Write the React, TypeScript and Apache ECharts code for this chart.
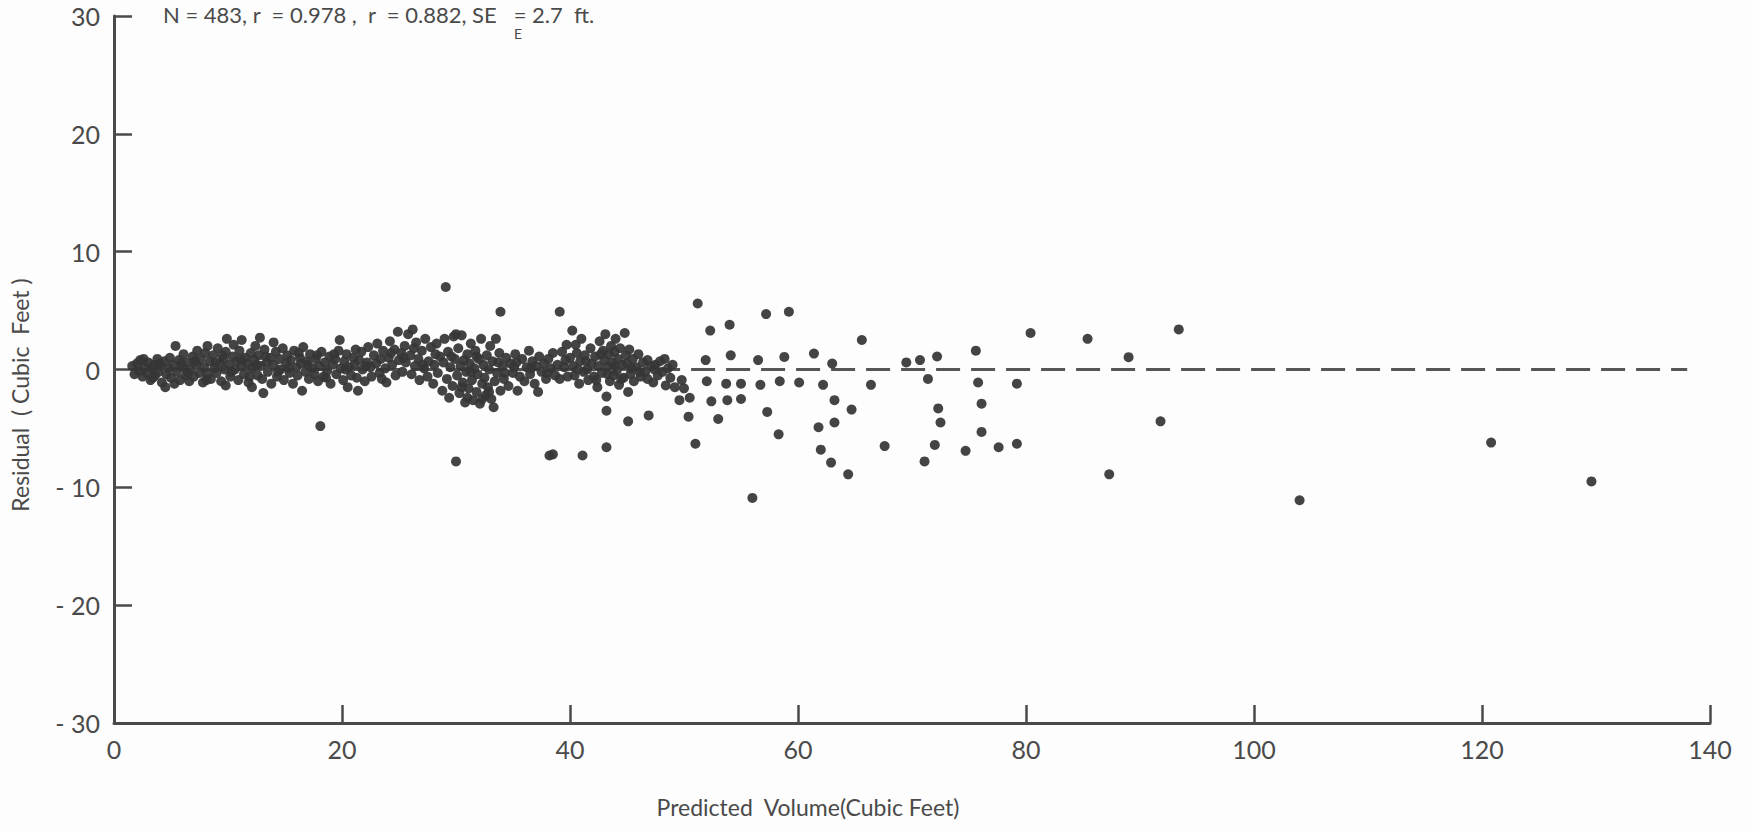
import React, { useEffect, useRef } from "react";
import * as echarts from "echarts";

const xTicks = [0, 20, 40, 60, 80, 100, 120, 140];
const yTicks = [-30, -20, -10, 0, 10, 20, 30];

// dense cluster of residuals (predicted volume, residual)
const clusterPoints: number[][] = [
  [1.6,0.3],[1.8,-0.4],[2.0,0.5],[2.2,-0.1],[2.3,0.8],[2.5,-0.6],[2.7,0.2],[2.9,-0.3],[3.0,0.6],[3.2,-0.9],[3.3,0.1],[3.5,0.4],[3.6,-0.5],[3.8,0.9],[3.9,-0.2],[4.1,0.3],[4.2,-1.1],[4.4,0.7],[4.5,-1.5],[4.6,-0.4],[4.8,0.1],[4.9,1.0],[5.0,-0.7],
  [5.2,0.4],[5.4,2.0],[5.3,-1.2],[5.5,-0.2],[5.7,0.8],[5.8,-0.9],[6.0,0.2],[6.1,1.3],[6.3,-0.5],[6.4,0.6],[6.6,-1.0],[6.7,0.0],[6.9,1.1],[7.0,-0.6],[7.2,0.4],[7.3,1.6],[7.5,-0.3],[7.6,0.9],[7.8,-1.1],[7.9,0.2],[8.0,1.4],[8.2,2.0],[8.2,-0.4],[8.4,0.7],[8.5,-0.8],[8.7,1.2],[8.8,0.1],[9.0,-0.3],[9.1,1.8],[9.3,0.5],[9.4,-1.0],[9.6,0.9],[9.7,0.0],[9.8,1.5],[9.9,2.6],[9.8,-1.35],
  [10.1,0.4],[10.2,-0.6],[10.4,1.1],[10.5,2.1],[10.6,0.0],[10.8,0.7],[10.9,-0.9],[11.0,1.6],[11.2,2.5],[11.2,0.3],[11.4,-0.4],[11.5,1.0],[11.7,0.5],[11.8,-1.1],[12.0,1.4],[12.1,0.1],[12.1,-1.5],[12.3,0.8],[12.4,2.0],[12.6,-0.5],[12.7,1.2],[12.8,2.7],[12.9,0.3],[13.1,-2.0],[13.0,-0.8],[13.2,1.7],[13.4,0.6],[13.5,-0.2],[13.7,1.0],[13.8,-1.2],[14.0,2.3],[14.0,0.4],[14.2,1.5],[14.3,-0.6],[14.5,0.9],[14.6,0.0],[14.8,1.8],[14.9,-0.9],
  [15.1,0.5],[15.2,1.2],[15.4,-0.3],[15.5,0.8],[15.7,-1.2],[15.8,1.6],[16.0,0.2],[16.1,-0.5],[16.3,1.0],[16.5,-1.8],[16.4,0.5],[16.6,1.9],[16.8,-0.2],[16.9,0.7],[17.1,-0.8],[17.2,1.3],[17.4,0.1],[17.6,-0.4],[17.7,0.9],[17.9,-1.0],[18.1,-4.8],[18.0,0.3],[18.2,1.5],[18.4,-0.6],[18.5,0.6],[18.7,-0.1],[18.9,1.1],[19.0,-1.2],[19.2,0.4],[19.4,0.9],[19.5,-0.4],[19.7,1.6],[19.8,2.5],[19.9,0.1],
  [20.1,-0.9],[20.2,0.7],[20.4,1.3],[20.5,-1.5],[20.6,0.2],[20.8,-0.5],[21.0,1.0],[21.1,0.4],[21.4,-1.8],[21.3,-0.7],[21.5,0.8],[21.7,1.5],[21.8,0.0],[22.0,-1.0],[22.2,0.6],[22.3,1.9],[22.5,0.2],[22.6,-0.6],[22.8,1.2],[23.0,0.5],[23.1,2.2],[23.3,-0.3],[23.4,0.9],[23.6,1.6],[23.8,0.1],[23.9,-1.1],[24.1,1.0],[24.2,2.4],[24.4,0.4],[24.6,1.7],[24.7,-0.5],[24.9,3.2],
  [25.0,0.8],[25.2,1.4],[25.3,-0.2],[25.5,2.0],[25.6,0.6],[25.8,3.0],[26.0,1.2],[26.2,3.4],[26.1,-0.4],[26.4,0.3],[26.5,2.3],[26.7,0.9],[26.8,-0.9],[27.0,1.6],[27.2,0.1],[27.3,2.6],[27.5,-0.6],[27.6,0.7],[27.8,1.9],[28.0,-1.2],[28.1,0.4],[28.3,2.2],[28.4,-0.3],[28.6,1.1],[28.8,-1.8],[28.9,0.6],[29.1,7.0],[29.0,2.6],[29.2,-0.8],[29.3,1.5],[29.4,-2.4],[29.5,0.2],[29.7,-1.4],[29.8,2.8],[30.0,3.0],[30.0,-7.8],[29.9,0.9],
  [30.1,-0.5],[30.2,1.8],[30.3,-2.0],[30.4,0.3],[30.5,2.9],[30.6,-1.1],[30.7,0.8],[30.8,-2.8],[30.9,-0.2],[31.0,-2.4],[31.0,1.3],[31.1,-1.6],[31.2,0.5],[31.3,2.2],[31.4,-0.9],[31.5,-2.6],[31.6,0.1],[31.7,1.6],[31.8,-1.9],[31.9,-0.4],[32.0,0.9],[32.1,-2.9],[32.2,2.6],[32.3,-1.2],[32.4,0.4],[32.5,-0.7],[32.6,-2.2],[32.7,1.2],[32.8,-1.5],[32.9,0.0],[33.0,2.0],[33.1,-2.5],[33.3,-3.2],[33.2,0.7],[33.4,-1.0],[33.5,2.6],[33.6,-0.3],[33.8,1.4],[33.9,4.9],[33.9,-1.8],[34.1,0.3],[34.2,-0.8],[34.4,1.0],[34.6,-1.4],[34.8,0.5],
  [35.0,-0.3],[35.2,1.3],[35.4,-1.8],[35.3,0.6],[35.6,-0.6],[35.8,0.9],[36.0,-1.0],[36.2,0.2],[36.4,1.6],[36.5,-0.4],[36.7,0.7],[36.9,-1.2],[37.0,0.3],[37.2,-1.9],[37.3,1.1],[37.5,-0.2],[37.7,0.5],[37.9,-0.8],[38.1,0.9],[38.5,-7.2],[38.2,-7.3],[38.3,0.1],[38.5,1.4],[38.7,-0.5],[38.9,0.4],[39.1,-0.8],[39.1,4.9],[39.3,1.5],[39.5,0.2],[39.7,2.1],[39.8,-0.6],[40.0,1.0],
  [40.2,3.3],[40.3,0.3],[40.5,2.1],[40.4,-0.5],[40.6,1.4],[40.8,-1.2],[40.9,0.7],[41.1,-7.3],[41.0,2.6],[41.2,-0.2],[41.3,1.2],[41.5,0.0],[41.6,-0.9],[41.8,1.8],[41.9,0.5],[42.1,-0.6],[42.2,1.1],[42.4,-1.5],[42.5,0.3],[42.6,2.4],[42.8,-0.3],[42.9,1.6],[43.0,0.8],[43.1,3.0],[43.2,-2.3],[43.2,-3.5],[43.2,-6.6],[43.3,0.2],[43.4,1.3],[43.5,-1.0],[43.6,2.0],[43.7,0.6],[43.8,-0.5],[43.9,1.5],[44.0,2.6],[44.1,-0.1],[44.2,0.9],[44.3,-1.3],[44.4,1.8],[44.6,0.4],[44.8,3.1],[44.7,-0.7],[44.9,1.2],
  [45.1,-1.9],[45.1,-4.4],[45.0,0.5],[45.2,1.7],[45.3,-0.4],[45.5,0.9],[45.6,-1.0],[45.8,0.2],[46.0,1.3],[46.2,-0.6],[46.4,0.6],[46.6,-0.2],[46.8,0.8],[46.8,-0.8],[46.9,-3.9],[47.1,0.3],[47.3,-1.1],[47.5,0.4],[47.7,-0.5],[47.9,0.7],[48.1,-0.2],[48.3,0.9],[48.4,-1.35],[48.6,0.1],[48.8,-0.7],[49.0,0.4],[49.2,-1.5],[49.6,-2.6],[49.8,-0.9],[50.0,-1.6],[50.4,-4.0],[50.5,-2.4],
  // additional overlapping points in the densest parts of the band
  [2.6,0.9],[3.4,-0.7],[4.0,0.5],[5.9,0.5],[6.5,-0.3],[7.1,0.7],[8.1,-0.9],[8.9,0.6],[9.5,1.2],[10.3,-0.2],[11.1,0.9],[11.9,-0.6],[12.5,0.4],[13.3,1.1],[14.4,-0.2],[15.3,0.1],[16.2,1.4],[17.0,0.4],[17.8,1.2],[18.6,-0.7],[19.3,1.3],[20.3,0.0],[21.2,1.7],[22.1,0.3],[23.5,-0.8],[24.3,1.4],[25.4,1.0],[26.3,1.8],[27.1,0.4],[28.2,1.3],[29.6,1.1],[30.5,-1.5],[31.3,-0.2],[31.8,1.1],[32.3,-2.5],[32.9,-1.9],[33.7,0.6],[34.3,-0.3],[35.1,0.2],[36.6,0.1],[38.0,-0.3],[39.6,0.8],[40.7,0.0],[41.4,0.7],[42.3,-0.9],[42.7,1.3],[43.3,-0.4],[43.9,0.3],[44.5,-0.8],[45.4,0.1],[46.1,-0.2],[47.4,0.0],
];

// sparse residuals for larger trees
const sparsePoints: number[][] = [
  [51.0,-6.3],[51.2,5.6],[51.9,0.8],[52.0,-1.0],[52.3,3.3],[52.4,-2.7],[53.0,-4.2],[53.7,-1.2],[53.8,-2.6],[54.0,3.8],[54.1,1.2],[55.0,-1.2],[55.0,-2.5],[56.0,-10.9],[56.5,0.8],[56.7,-1.3],[57.2,4.7],[57.3,-3.6],[58.3,-5.5],[58.4,-1.0],[58.8,1.07],[59.2,4.9],[60.1,-1.1],[61.4,1.35],[61.8,-4.9],[62.0,-6.8],[62.2,-1.3],[62.9,-7.9],[63.0,0.5],[63.2,-2.6],[63.2,-4.5],[64.4,-8.9],[64.7,-3.4],[65.6,2.5],[66.4,-1.3],[67.6,-6.5],[69.5,0.6],[70.7,0.8],[71.1,-7.8],[71.4,-0.8],[72.0,-6.4],[72.2,1.1],[72.3,-3.3],[72.5,-4.5],[74.7,-6.9],[75.6,1.6],[75.8,-1.1],[76.1,-2.9],[76.1,-5.3],[77.6,-6.6],[79.2,-1.2],[79.2,-6.3],[80.4,3.1],[85.4,2.6],[87.3,-8.9],[89.0,1.05],[91.8,-4.4],[93.4,3.4],[104.0,-11.1],[120.8,-6.2],[129.6,-9.5],
];

const zeroLine = [[1.5, 0], [138, 0]];

const FONT = "Lato";
const INK = "#4a4a4a";

export default function App() {
  const ref = useRef<HTMLDivElement>(null);
  useEffect(() => {
    if (!ref.current) return;
    const chart = echarts.init(ref.current, undefined, { renderer: "svg" });
    chart.setOption({
      animation: false,
      backgroundColor: "#fdfdfd",
      grid: { left: 114, right: 43, top: 16, bottom: 109 },
      xAxis: {
        type: "value",
        min: xTicks[0],
        max: xTicks[xTicks.length - 1],
        interval: 20,
        axisLine: { show: true, onZero: false, lineStyle: { color: INK, width: 3 } },
        axisTick: { show: true, inside: true, length: 18, lineStyle: { color: INK, width: 2.5 } },
        splitLine: { show: false },
        axisLabel: { color: INK, fontFamily: FONT, fontSize: 25, margin: 13 },
      },
      yAxis: {
        type: "value",
        min: yTicks[0],
        max: yTicks[yTicks.length - 1],
        interval: 10,
        axisLine: { show: true, onZero: false, lineStyle: { color: INK, width: 3 } },
        axisTick: { show: true, inside: true, length: 18, lineStyle: { color: INK, width: 2.5 } },
        splitLine: { show: false },
        axisLabel: {
          color: INK,
          fontFamily: FONT,
          fontSize: 25,
          margin: 14,
          padding: [6, 0, 0, 0],
          formatter: (v: number) => (v < 0 ? "- " + Math.abs(v) : String(v)),
        },
      },
      series: [
        {
          type: "line",
          data: zeroLine,
          symbol: "none",
          silent: true,
          lineStyle: { color: "#555", width: 3, type: [24, 11] },
          z: 1,
        },
        {
          type: "scatter",
          data: clusterPoints,
          symbolSize: 10,
          itemStyle: { color: "#363636", opacity: 0.93 },
          z: 2,
        },
        {
          type: "scatter",
          data: sparsePoints,
          symbolSize: 10,
          itemStyle: { color: "#363636", opacity: 0.93 },
          z: 2,
        },
      ],
      graphic: [
        {
          type: "text",
          x: 20,
          y: 395,
          rotation: Math.PI / 2,
          style: {
            text: "Residual  ( Cubic  Feet )",
            fill: INK,
            font: `23px ${FONT}`,
            align: "center",
            verticalAlign: "middle",
          },
        },
        {
          type: "text",
          x: 808,
          y: 807,
          style: {
            text: "Predicted  Volume(Cubic Feet)",
            fill: INK,
            font: `23px ${FONT}`,
            align: "center",
            verticalAlign: "middle",
          },
        },
        {
          type: "text",
          x: 163,
          y: 3,
          style: {
            text: "N = 483, r  = 0.978 ,  r  = 0.882, SE   = 2.7  ft.",
            fill: INK,
            font: `22px ${FONT}`,
            align: "left",
            verticalAlign: "top",
          },
        },
        {
          type: "text",
          x: 518,
          y: 26,
          style: {
            text: "E",
            fill: INK,
            font: `14px ${FONT}`,
            align: "center",
            verticalAlign: "top",
          },
        },
      ],
    });
    return () => chart.dispose();
  }, []);
  return (
    <div
      ref={ref}
      style={{ position: "fixed", left: 0, top: 0, width: 1753, height: 832 }}
    />
  );
}
